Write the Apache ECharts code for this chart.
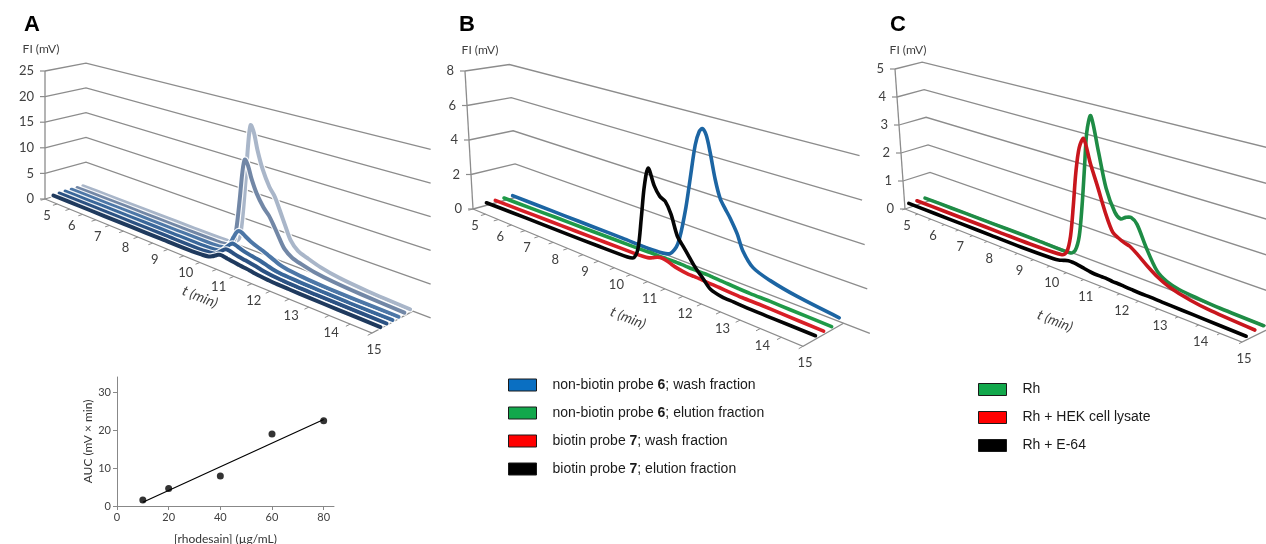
<!DOCTYPE html>
<html><head><meta charset="utf-8">
<script src="https://cdn.jsdelivr.net/npm/echarts@6/dist/echarts.min.js"></script>
<style>html,body{margin:0;padding:0;background:#fff}#c{width:1266px;height:544px}</style>
</head><body><div id="c"></div><script>
// ---------------- DATA ----------------
const timeTicks = [5,6,7,8,9,10,11,12,13,14,15];
const ticksA = [0,5,10,15,20,25];
const ticksB = [0,2,4,6,8];
const ticksC = [0,1,2,3,4,5];

// Panel A (front -> back)
const timeA = [5,6,7,8,9,10,10.3,10.5,10.6,10.7,10.78,10.85,10.95,11.05,11.2,11.4,11.55,11.7,11.85,12.0,12.2,12.45,12.8,13.3,14,15];
const a1 = [0.2,0.2,0.2,0.2,0.2,0.2,0.3,0.45,0.7,1.05,1.35,1.5,1.45,1.35,1.2,1.05,0.95,0.85,0.7,0.6,0.5,0.4,0.35,0.3,0.25,0.2];
const a2 = [0.25,0.25,0.25,0.25,0.25,0.25,0.35,0.5,0.9,1.4,1.8,2.0,1.95,1.8,1.6,1.4,1.25,1.1,0.9,0.75,0.6,0.5,0.4,0.35,0.3,0.25];
const a3 = [0.3,0.3,0.3,0.3,0.3,0.3,0.4,0.6,1.1,1.8,2.3,2.6,2.5,2.3,2.0,1.75,1.6,1.4,1.15,0.9,0.7,0.6,0.5,0.4,0.3,0.3];
const a4 = [0.3,0.3,0.3,0.3,0.3,0.35,0.45,0.8,1.7,3,3.9,4.3,4.2,3.8,3.3,2.8,2.5,2.1,1.7,1.3,1.0,0.8,0.6,0.45,0.35,0.3];
const a5 = [0.3,0.3,0.3,0.3,0.3,0.35,0.5,1.2,3.8,9,13.8,16.1,15.2,13.2,11,9,8,6.5,4.8,3.3,2.4,1.9,1.4,1.0,0.7,0.45];
const a6 = [0.3,0.3,0.3,0.3,0.3,0.35,0.5,1.5,5,12,18.5,21.7,20.5,17.8,14.8,12.1,10.8,8.7,6.5,4.4,3.1,2.5,1.8,1.2,0.8,0.5];

// Panel B
const timeB = [5,6,7,8,9,10,10.2,10.35,10.5,10.65,10.8,10.95,11.1,11.25,11.4,11.55,11.7,11.85,12.0,12.2,12.4,12.7,13,13.5,14,15];
const bBiotinElution = [0.15,0.18,0.2,0.22,0.25,0.3,0.4,1.0,2.6,4.3,5.3,4.5,4.05,3.9,3.35,2.35,1.95,1.55,1.15,0.75,0.35,0.2,0.18,0.15,0.15,0.15];
const bBiotinWash = [0.15,0.17,0.2,0.22,0.25,0.28,0.3,0.33,0.42,0.55,0.6,0.55,0.45,0.38,0.33,0.3,0.3,0.3,0.28,0.26,0.25,0.22,0.2,0.2,0.18,0.15];
const bNonBiotinElution = [0.15,0.17,0.2,0.22,0.25,0.28,0.3,0.3,0.3,0.31,0.32,0.32,0.32,0.31,0.3,0.3,0.3,0.3,0.28,0.26,0.25,0.22,0.2,0.2,0.18,0.15];
const timeBWash = [5,6,7,8,9,10,10.5,10.77,11.05,11.25,11.46,11.6,11.7,11.8,11.88,11.98,12.09,12.21,12.34,12.51,12.64,12.89,13.32,14,15];
const bNonBiotinWash = [0.15,0.15,0.15,0.15,0.15,0.15,0.3,1.0,2.85,4.6,6.45,7.2,7.4,7.1,6.3,5.0,4.1,3.68,3.27,2.6,1.85,1.2,0.88,0.6,0.35];
const namesB = ['non-biotin probe 6; wash fraction','non-biotin probe 6; elution fraction','biotin probe 7; wash fraction','biotin probe 7; elution fraction'];

// Panel C
const timeC = [5,6,7,8,9,10,10.15,10.3,10.45,10.6,10.75,10.9,11.05,11.2,11.4,11.55,11.7,11.85,12.0,12.2,12.45,12.7,13,13.5,14,15];
const cRh = [0.15,0.15,0.15,0.15,0.15,0.15,0.3,0.8,1.8,3.0,4.2,4.75,3.7,2.6,1.95,1.8,1.9,1.95,1.8,1.2,0.6,0.38,0.28,0.22,0.18,0.15];
const cRhLysate = [0.15,0.15,0.15,0.15,0.15,0.2,0.35,0.9,1.9,3.0,3.8,4.13,3.4,2.8,1.95,1.5,1.38,1.3,1.25,1.08,0.83,0.62,0.45,0.3,0.22,0.15];
const cRhE64 = [0.15,0.15,0.15,0.15,0.15,0.18,0.2,0.25,0.3,0.3,0.28,0.25,0.22,0.2,0.2,0.2,0.18,0.18,0.17,0.16,0.15,0.15,0.14,0.13,0.12,0.1];
const namesC = ['Rh','Rh + HEK cell lysate','Rh + E-64'];

// Inset (AUC vs concentration)
const aucConc = [10,20,40,60,80];
const aucValue = [1.6,4.6,7.9,19.0,22.5];
const fitConc = [10,80];
const fitValue = [1.0,22.8];
const insetXTicks = [0,20,40,60,80];
const insetYTicks = [0,10,20,30];

// ---------------- perspective frame (origin, axis end points, vanishing points) ----------------
function makeProj(O, Ex, Vx, Ey, Ez, Vz){
  const a=(O[0]-Ex[0])/(Ex[0]-Vx[0]);
  const c=(O[0]-Ez[0])/(Ez[0]-Vz[0]);
  const dy=[Ey[0]-O[0], Ey[1]-O[1]];
  return (u,w,z)=>{ const d=1+a*u+c*z;
    return [(O[0]+a*Vx[0]*u+c*Vz[0]*z+dy[0]*w)/d, (O[1]+a*Vx[1]*u+c*Vz[1]*z+dy[1]*w)/d]; };
}
const projA = makeProj([45,199],[372,333],[-870,-176],[45,71],[86,187],[1315,-173]);
const projB = makeProj([473,209],[803,347],[-515,-202],[465,71],[517,197],[1573,-91]);
const projC = makeProj([905,209],[1242,342],[-120,-196],[895,69],[932,200],[2714,-394]);

function mapper(proj, params, api){
  const cs=params.coordSys;
  return (t,v,z)=>{ const c=api.coord([t,v]); return proj((c[0]-cs.x)/cs.width,(cs.y+cs.height-c[1])/cs.height,z); };
}
const LBL='#404040', GRID='#8c8c8c', FONT='Lato, "Liberation Sans", sans-serif';

function frameRenderer(proj, vTicks, tEnd){
  return function(params, api){
    const P=mapper(proj, params, api), ch=[], vmax=vTicks[vTicks.length-1];
    vTicks.forEach(v=>{
      ch.push({type:'polyline', shape:{points:[P(5,v,0),P(5,v,1),P(tEnd,v,1)]}, style:{stroke:GRID,lineWidth:1.3,fill:null}});
      const a=P(5,v,0);
      ch.push({type:'line', shape:{x1:a[0]-5,y1:a[1],x2:a[0],y2:a[1]}, style:{stroke:GRID,lineWidth:1.2}});
      ch.push({type:'text', x:a[0]-11, y:a[1], style:{text:String(v), align:'right', verticalAlign:'middle', font:'13px '+FONT, fill:LBL}});
    });
    const o=P(5,0,0), top=P(5,vmax,0);
    ch.push({type:'line', shape:{x1:o[0],y1:o[1],x2:top[0],y2:top[1]}, style:{stroke:GRID,lineWidth:1.3}});
    ch.push({type:'polyline', shape:{points:[P(5,0,0),P(15,0,0),P(15,0,1)]}, style:{stroke:GRID,lineWidth:1.3,fill:null}});
    for(let k=0;k<=20;k++){ const t=5+k*0.5, a=P(t,0,0), b=P(t,0,-0.1);
      ch.push({type:'line', shape:{x1:a[0],y1:a[1],x2:b[0],y2:b[1]}, style:{stroke:GRID,lineWidth:1}}); }
    timeTicks.forEach(t=>{ const a=P(t,0,0);
      ch.push({type:'text', x:a[0]+2, y:a[1]+17, style:{text:String(t), align:'center', verticalAlign:'middle', font:'13px '+FONT, fill:LBL}}); });
    return {type:'group', children:ch};
  };
}
function lineRenderer(proj, times, values, z, color, width, outline){
  return function(params, api){
    const P=mapper(proj, params, api);
    const pts=times.map((t,i)=>P(t,values[i],z));
    const ch=[];
    if(outline) ch.push({type:'polyline', shape:{points:pts, smooth:0.3}, style:{stroke:outline, lineWidth:width+2.4, fill:null, lineJoin:'round', lineCap:'round'}});
    ch.push({type:'polyline', shape:{points:pts, smooth:0.3}, style:{stroke:color, lineWidth:width, fill:null, lineJoin:'round', lineCap:'round'}});
    return {type:'group', children:ch};
  };
}
function customSeries(name, idx, render, fill){
  return {type:'custom', name:name, coordinateSystem:'cartesian2d', xAxisIndex:idx, yAxisIndex:idx,
    data:[[5,0]], renderItem:render, silent:true, itemStyle:{color:fill||'#000'}};
}

const series=[];
series.push(customSeries('frameA',0,frameRenderer(projA,ticksA,15.4)));
series.push(customSeries('frameB',1,frameRenderer(projB,ticksB,15.6)));
series.push(customSeries('frameC',2,frameRenderer(projC,ticksC,16)));
// A lines back -> front
const aSeries=[[a6,0.93,'#a9b6c9'],[a5,0.785,'#7287a6'],[a4,0.64,'#4d77a7'],[a3,0.49,'#3a679a'],[a2,0.346,'#2c5283'],[a1,0.2,'#1f3a5e']];
aSeries.forEach((s,i)=>series.push(customSeries('A'+i,0,lineRenderer(projA,timeA,s[0],s[1],s[2],4,'rgba(255,255,255,0.9)'))));
// B lines back -> front
series.push(customSeries(namesB[0],1,lineRenderer(projB,timeBWash,bNonBiotinWash,0.9,'#1c65a3',3.6),'#0a6fc2'));
series.push(customSeries(namesB[1],1,lineRenderer(projB,timeB,bNonBiotinElution,0.7,'#1f9a48',3.6),'#12a84c'));
series.push(customSeries(namesB[2],1,lineRenderer(projB,timeB,bBiotinWash,0.5,'#d81f26',3.6),'#ff0000'));
series.push(customSeries(namesB[3],1,lineRenderer(projB,timeB,bBiotinElution,0.3,'#050505',3.6),'#000000'));
// C lines back -> front
series.push(customSeries(namesC[0],2,lineRenderer(projC,timeC,cRh,0.75,'#1e8c45',3.6),'#12a84c'));
series.push(customSeries(namesC[1],2,lineRenderer(projC,timeC,cRhLysate,0.45,'#c8161d',3.6),'#ff0000'));
series.push(customSeries(namesC[2],2,lineRenderer(projC,timeC,cRhE64,0.15,'#000000',3.6),'#000000'));
// Inset
series.push({type:'scatter', xAxisIndex:3, yAxisIndex:3, symbolSize:7, itemStyle:{color:'#000'}, silent:true,
  data:aucConc.map((c,i)=>[c,aucValue[i]])});
series.push({type:'line', xAxisIndex:3, yAxisIndex:3, symbol:'none', silent:true, lineStyle:{color:'#000',width:1.2},
  data:fitConc.map((c,i)=>[c,fitValue[i]])});

const hiddenGrid={left:0,top:0,width:100,height:100,show:false,outerBoundsMode:'none'};
const legendCommon={orient:'vertical', icon:'rect', itemWidth:28, itemHeight:12, itemGap:14, padding:0, selectedMode:false,
  itemStyle:{borderColor:'#1a1a1a',borderWidth:1},
  textStyle:{fontFamily:'"Liberation Sans", Arial, sans-serif', fontSize:14, color:'#1a1a1a', padding:[0,0,0,11],
    rich:{b:{fontFamily:'"Liberation Sans", Arial, sans-serif', fontSize:14, fontWeight:'bold', color:'#1a1a1a'}}},
  formatter:n=>n.replace(/probe (\d)/,'probe {b|$1}')};

const chart=echarts.init(document.getElementById('c'),null,{renderer:'canvas'});
chart.setOption({
  animation:false,
  backgroundColor:'#fff',
  grid:[hiddenGrid,hiddenGrid,hiddenGrid,{left:117,top:377,width:217,height:129,show:false,containLabel:false,outerBoundsMode:'none'}],
  xAxis:[
    {gridIndex:0,type:'value',min:5,max:15,show:false},
    {gridIndex:1,type:'value',min:5,max:15,show:false},
    {gridIndex:2,type:'value',min:5,max:15,show:false},
    {gridIndex:3,type:'value',min:0,max:84,name:'[rhodesain] (\u00b5g/mL)',nameLocation:'middle',nameGap:27,
      nameTextStyle:{fontFamily:FONT,fontSize:12,color:'#333'},
      axisLine:{lineStyle:{color:'#888'}},splitLine:{show:false},
      axisTick:{length:4,lineStyle:{color:'#888'},customValues:insetXTicks},
      axisLabel:{fontFamily:FONT,fontSize:11,color:LBL,margin:6,customValues:insetXTicks}}
  ],
  yAxis:[
    {gridIndex:0,type:'value',min:0,max:25,show:false},
    {gridIndex:1,type:'value',min:0,max:8,show:false},
    {gridIndex:2,type:'value',min:0,max:5,show:false},
    {gridIndex:3,type:'value',min:0,max:34,name:'AUC (mV \u00d7 min)',nameLocation:'middle',nameGap:23,
      nameTextStyle:{fontFamily:FONT,fontSize:12,color:'#333'},
      axisLine:{show:true,lineStyle:{color:'#888'}},splitLine:{show:false},
      axisTick:{show:true,length:4,lineStyle:{color:'#888'},customValues:insetYTicks},
      axisLabel:{fontFamily:FONT,fontSize:11,color:LBL,margin:6,customValues:insetYTicks}}
  ],
  legend:[
    Object.assign({},legendCommon,{data:namesB,left:508,top:378}),
    Object.assign({},legendCommon,{data:namesC,left:978,top:382.5})
  ],
  graphic:[
    {type:'text',x:32,y:25,style:{text:'A',font:'bold 22px "Liberation Sans", Arial',fill:'#000',align:'center',verticalAlign:'middle'}},
    {type:'text',x:467,y:25,style:{text:'B',font:'bold 22px "Liberation Sans", Arial',fill:'#000',align:'center',verticalAlign:'middle'}},
    {type:'text',x:898,y:25,style:{text:'C',font:'bold 22px "Liberation Sans", Arial',fill:'#000',align:'center',verticalAlign:'middle'}},
    {type:'text',x:41,y:49,style:{text:'FI (mV)',font:'12px '+FONT,fill:LBL,align:'center',verticalAlign:'middle'}},
    {type:'text',x:480,y:50,style:{text:'FI (mV)',font:'12px '+FONT,fill:LBL,align:'center',verticalAlign:'middle'}},
    {type:'text',x:908,y:50,style:{text:'FI (mV)',font:'12px '+FONT,fill:LBL,align:'center',verticalAlign:'middle'}},
    {type:'text',x:200,y:297,rotation:-0.38,style:{text:'t (min)',font:'italic 14px '+FONT,fill:LBL,align:'center',verticalAlign:'middle'}},
    {type:'text',x:628,y:318,rotation:-0.38,style:{text:'t (min)',font:'italic 14px '+FONT,fill:LBL,align:'center',verticalAlign:'middle'}},
    {type:'text',x:1055,y:321,rotation:-0.38,style:{text:'t (min)',font:'italic 14px '+FONT,fill:LBL,align:'center',verticalAlign:'middle'}}
  ],
  series:series
});
</script></body></html>
